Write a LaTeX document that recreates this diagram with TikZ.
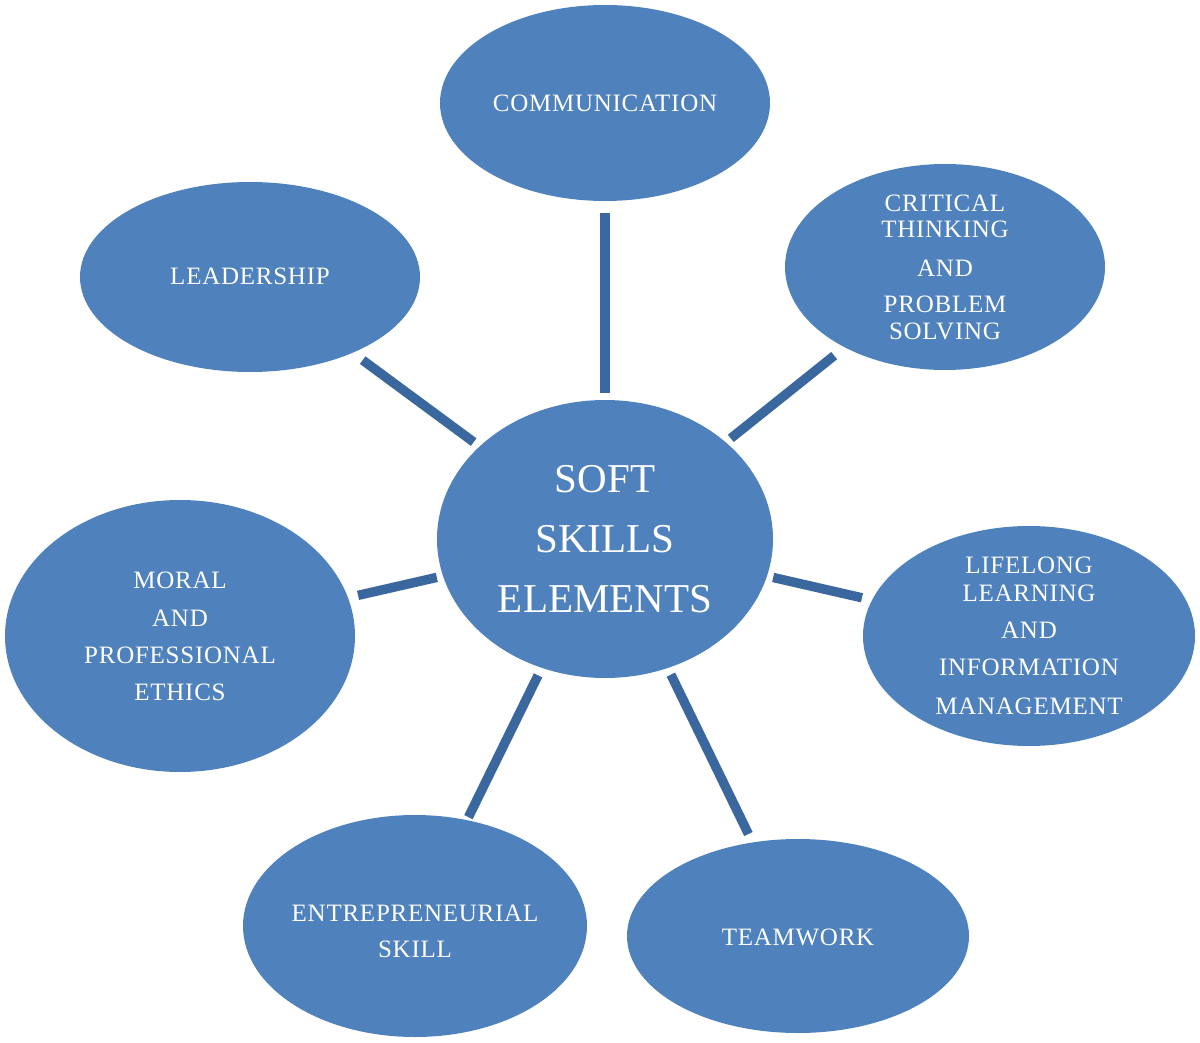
\documentclass[tikz,border=0pt]{standalone}
\usepackage{fontspec}
\setmainfont{Liberation Serif}
\newfontfamily\lblfont[LetterSpace=3]{Liberation Serif}
\usetikzlibrary{shapes.geometric}
\definecolor{ellblue}{HTML}{4F81BD}
\definecolor{linkblue}{HTML}{3B679F}
\begin{document}
\begin{tikzpicture}[x=0.5pt,y=-0.5pt,
  bubble/.style={ellipse,fill=ellblue,draw=none,inner sep=0pt},
  lbl/.style={text=white,align=center,font=\lblfont\fontsize{12.5}{13}\selectfont,inner sep=0pt},
  big/.style={text=white,align=center,font=\fontsize{20.5}{30}\selectfont,inner sep=0pt},
  link/.style={draw=linkblue,line width=4.7pt}]
\path[use as bounding box] (0,0) rectangle (1200,1043);
% bubbles
\node[bubble,minimum width=168pt,minimum height=139pt] (center) at (605,539) {};
\node[bubble,minimum width=165pt,minimum height=98pt] (comm) at (605,103) {};
\node[bubble,minimum width=160pt,minimum height=103pt] (crit) at (945,267) {};
\node[bubble,minimum width=170pt,minimum height=95pt] (lead) at (250,277) {};
\node[bubble,minimum width=175pt,minimum height=136pt] (moral) at (180,636) {};
\node[bubble,minimum width=166pt,minimum height=110pt] (life) at (1029,636) {};
\node[bubble,minimum width=172pt,minimum height=111pt] (entre) at (415,926) {};
\node[bubble,minimum width=171pt,minimum height=97pt] (team) at (798,936) {};
% texts
\node[big] (centerT) at (605,539) {SOFT\\SKILLS\\ELEMENTS};
\node[lbl] (commT) at (605,103) {COMMUNICATION};
\node[lbl] (critT) at (945,267) {CRITICAL\\THINKING\\[6.5pt]AND\\[5pt]PROBLEM\\[0.5pt]SOLVING};
\node[lbl] (leadT) at (250,276) {LEADERSHIP};
\node[lbl] (moralT) at (180,636) {MORAL\\[6pt]AND\\[5.5pt]PROFESSIONAL\\[5.5pt]ETHICS};
\node[lbl] (lifeT) at (1029,636) {LIFELONG\\[1pt]LEARNING\\[5.5pt]AND\\[5.5pt]INFORMATION\\[6.5pt]MANAGEMENT};
\node[lbl] (entreT) at (415,931) {ENTREPRENEURIAL\\[5pt]SKILL};
\node[lbl] (teamT) at (798,937) {TEAMWORK};
% connectors
\draw[link,shorten <=3.5pt,shorten >=6pt] (center) -- (comm);
\draw[link,shorten <=3pt,shorten >=6.5pt] (center) -- (crit);
\draw[link,shorten <=3.5pt,shorten >=6pt] (center) -- (lead);
\draw[link,shorten <=3pt,shorten >=5pt] (center) -- (life);
\draw[link,shorten <=3pt,shorten >=5pt] (center) -- (moral);
\draw[link,shorten <=4pt,shorten >=1.5pt] (center) -- (entre);
\draw[link,shorten <=3.5pt,shorten >=4.5pt] (center) -- (team);
\end{tikzpicture}
\end{document}
